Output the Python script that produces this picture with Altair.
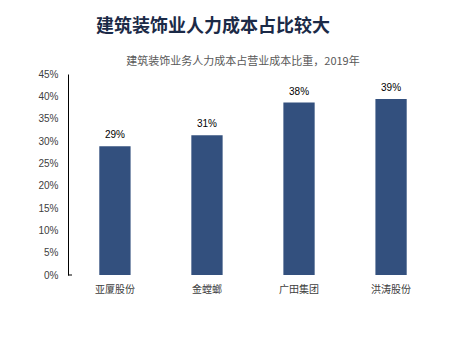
import altair as alt
import pandas as pd

companies = ["亚厦股份", "金螳螂", "广田集团", "洪涛股份"]
shares = [0.288, 0.313, 0.386, 0.394]
labels = ["29%", "31%", "38%", "39%"]
y_ticks = [0, 0.05, 0.10, 0.15, 0.20, 0.25, 0.30, 0.35, 0.40, 0.45]
title_text = "建筑装饰业人力成本占比较大"
subtitle_text = "建筑装饰业务人力成本占营业成本比重，2019年"

df = pd.DataFrame({"company": companies, "share": shares, "label": labels})

CJK = "Noto Sans CJK SC"
LAT = "Liberation Sans"

x_axis = alt.Axis(domain=False, ticks=False, labelAngle=0, labelFont=CJK,
                  labelFontSize=10, labelColor="#404040", labelPadding=9)
y_axis = alt.Axis(values=y_ticks, format=".0%", labelOverlap=False,
                  domain=True, domainColor="#000000", domainWidth=1,
                  ticks=False, grid=False, labelFont=LAT, labelFontSize=10,
                  labelColor="#404040", labelPadding=10)
x_scale = alt.Scale(paddingInner=0.66, paddingOuter=0.34)
y_scale = alt.Scale(domain=[0, 0.45], nice=False)

x_enc = alt.X("company:N", sort=companies, title=None, scale=x_scale, axis=x_axis)
y_enc = alt.Y("share:Q", title=None, scale=y_scale, axis=y_axis)

bars = alt.Chart(df).mark_bar(color="#33507e").encode(x=x_enc, y=y_enc)
text = alt.Chart(df).mark_text(font=LAT, fontSize=10, color="#000000", baseline="bottom", dy=-6).encode(
    x=x_enc, y=y_enc, text="label:N")
sub = alt.Chart(pd.DataFrame({"t": [subtitle_text]})).mark_text(
    font=CJK, fontSize=11, color="#595959", align="center", baseline="middle").encode(
    x=alt.value(175), y=alt.value(-12), text="t:N")
main = alt.Chart(pd.DataFrame({"t": [title_text]})).mark_text(
    font=CJK, fontSize=18, fontWeight="bold", color="#1b2a47", align="center", baseline="middle").encode(
    x=alt.value(145), y=alt.value(-47), text="t:N")
tick = alt.Chart(pd.DataFrame({"share": [0.0]})).mark_rule(color="#000000", strokeWidth=1).encode(
    x=alt.value(0), x2=alt.value(4), y=y_enc)

chart = alt.layer(bars, text, sub, main, tick).properties(
    width=370, height=201,
    background="#ffffff",
    autosize=alt.AutoSizeParams(type="none"),
    padding={"left": 68, "top": 74, "right": 13, "bottom": 81},
).configure_view(stroke=None, strokeWidth=0)

chart.save("out.html", embed_options={"renderer": "svg", "actions": False})
